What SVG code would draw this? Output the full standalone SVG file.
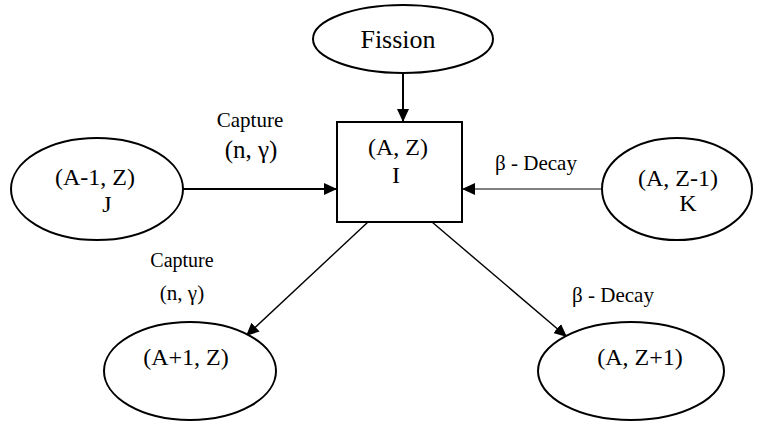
<svg xmlns="http://www.w3.org/2000/svg" width="763" height="421" viewBox="0 0 763 421">
  <style>
    .node { fill: #ffffff; stroke: #000000; stroke-width: 2; }
    .edge { fill: none; stroke: #000000; }
    .lbl { fill: #000000; text-anchor: middle; font-family: "Liberation Serif", "Times New Roman", serif; }
  </style>
  <defs>
    <marker id="arrow" markerUnits="userSpaceOnUse" markerWidth="14" markerHeight="12" refX="13" refY="6" orient="auto">
      <path d="M0,0 L13,6 L0,12 Z" fill="#000000"/>
    </marker>
  </defs>
  <rect width="763" height="421" fill="#ffffff"/>

  <!-- reactions feeding into and out of nuclide I -->
  <g id="connectors">
    <line class="edge" x1="403" y1="73" x2="403" y2="122" stroke-width="2" marker-end="url(#arrow)"/>
    <line class="edge" x1="183" y1="189" x2="337" y2="189" stroke-width="2" marker-end="url(#arrow)"/>
    <line class="edge" x1="602" y1="189" x2="462" y2="189" stroke-width="1" marker-end="url(#arrow)"/>
    <line class="edge" x1="368" y1="222" x2="246" y2="336" stroke-width="1.4" marker-end="url(#arrow)"/>
    <line class="edge" x1="432" y1="222" x2="567" y2="337" stroke-width="1.4" marker-end="url(#arrow)"/>
    <text class="lbl" x="250" y="127" font-size="21">Capture</text>
    <text class="lbl" x="251" y="158" font-size="25">(n, &#947;)</text>
    <text class="lbl" x="536" y="170" font-size="21">&#946; - Decay</text>
    <text class="lbl" x="182" y="267" font-size="20">Capture</text>
    <text class="lbl" x="182" y="300" font-size="21">(n, &#947;)</text>
    <text class="lbl" x="613" y="302" font-size="21">&#946; - Decay</text>
  </g>

  <g id="fission">
    <ellipse class="node" cx="403" cy="39" rx="90" ry="34"/>
    <text class="lbl" x="398" y="48" font-size="26">Fission</text>
  </g>

  <g id="nuclide-I">
    <rect class="node" x="337" y="122" width="125" height="100"/>
    <text class="lbl" x="398" y="155" font-size="24">(A, Z)</text>
    <text class="lbl" x="396" y="183" font-size="24">I</text>
  </g>

  <g id="nuclide-J">
    <ellipse class="node" cx="97" cy="189" rx="86" ry="51"/>
    <text class="lbl" x="95" y="185" font-size="24">(A-1, Z)</text>
    <text class="lbl" x="107" y="212" font-size="24">J</text>
  </g>

  <g id="nuclide-K">
    <ellipse class="node" cx="677" cy="189" rx="75" ry="51"/>
    <text class="lbl" x="678" y="186" font-size="24">(A, Z-1)</text>
    <text class="lbl" x="688" y="211" font-size="24">K</text>
  </g>

  <g id="nuclide-A1">
    <ellipse class="node" cx="190" cy="371" rx="86" ry="49"/>
    <text class="lbl" x="186" y="365" font-size="24">(A+1, Z)</text>
  </g>

  <g id="nuclide-Z1">
    <ellipse class="node" cx="631" cy="371" rx="93" ry="49"/>
    <text class="lbl" x="640" y="365" font-size="24">(A, Z+1)</text>
  </g>
</svg>
